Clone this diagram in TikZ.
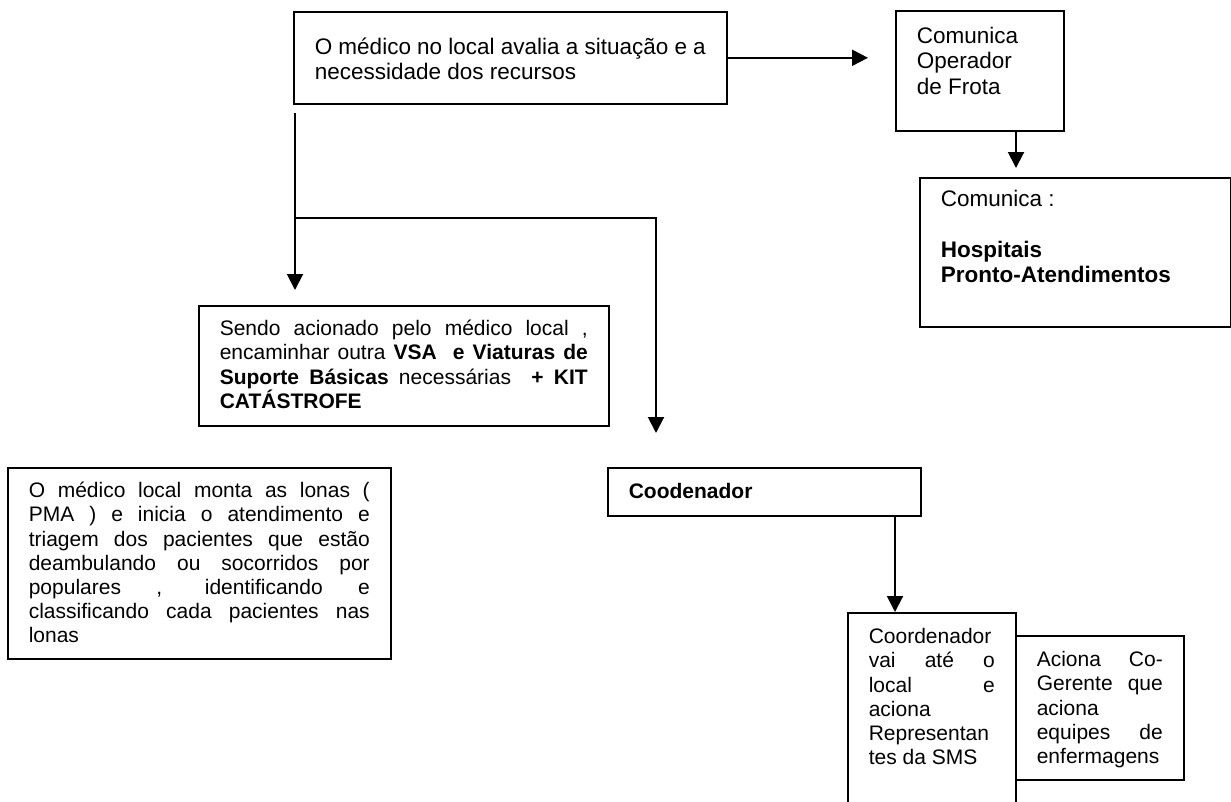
\documentclass[tikz,border=0pt]{standalone}
\usepackage{fontspec}
\setmainfont{Liberation Sans}
\usetikzlibrary{arrows.meta,calc}
\newcommand{\bt}[4][12pt]{\parbox[c][#3][t]{#2}{\vspace*{#1}\leftskip=21pt\rightskip=21pt\tolerance=10000\hyphenpenalty=10000\exhyphenpenalty=10000\parindent=0pt\rule{0pt}{0.905em}#4\par}}
\begin{document}
\begin{tikzpicture}[x=1pt,y=-1pt, font=\fontsize{21}{24.15}\selectfont,
  bx/.style={draw, line width=1.6pt, inner sep=0pt, anchor=north west},
  bigf/.style={font=\fontsize{22.5}{25.5}\selectfont},
  con/.style={line width=2pt},
  arr/.style={con, -{Triangle[length=16pt,width=16pt]}}]
\useasboundingbox (0,0) rectangle (1231,801);
\begin{scope}
\clip (0,0) rectangle (1231,801);
\node[bx, bigf] (A) at (293,11) {\bt[22pt]{433pt}{92pt}{O médico no local avalia a situação e a\\necessidade dos recursos}};
\node[bx, bigf] (B) at (895,10) {\bt{168pt}{120pt}{Comunica\\Operador\\de Frota}};
\node[bx, bigf] (C) at (919,177) {\bt[8pt]{311pt}{149pt}{Comunica :\\[25.5pt]\textbf{Hospitais}\\\textbf{Pronto-Atendimentos}}};
\node[bx] (D) at (198,305) {\bt[11pt]{410pt}{120pt}{Sendo acionado pelo médico local ,\linebreak encaminhar outra \textbf{VSA\ \ e Viaturas de}\linebreak \textbf{Suporte Básicas} necessárias\ \ \textbf{+ KIT}\linebreak \textbf{CATÁSTROFE}}};
\node[bx] (E) at (7,467) {\bt[11pt]{383pt}{191pt}{O médico local monta as lonas (\linebreak PMA ) e inicia o atendimento e\linebreak triagem dos pacientes que estão\linebreak deambulando ou socorridos por\linebreak populares , identificando e\linebreak classificando cada pacientes nas\linebreak lonas}};
\node[bx] (F) at (607,467) {\bt{313pt}{48pt}{\textbf{Coodenador}}};
\node[bx] (G) at (847,612) {\bt{168pt}{200pt}{Coordenador\newline vai até o\linebreak local e\linebreak aciona\newline Representan\newline tes da SMS}};
\node[bx] (H) at (1015,635) {\bt{168pt}{144pt}{Aciona Co-\linebreak Gerente que\linebreak aciona\newline equipes de\linebreak enfermagens}};
\draw[arr, shorten >=27pt] (A.east) -- (A.east -| B.west);
\coordinate (bc) at ($(B.south west)+(121,0)$);
\draw[arr, shorten >=9pt] (bc) -- (bc |- C.north);
\coordinate (ad) at ($(A.south west)+(2,8)$);
\draw[arr, shorten >=15pt] (ad) -- (ad |- D.north);
\coordinate (br) at (ad |- 0,218);
\draw[arr, shorten >=34pt] (br) -| ($(F.north west)+(49,0)$);
\coordinate (fg) at ($(F.south west)+(288,0)$);
\draw[arr] (fg) -- (fg |- G.north);
\end{scope}
\end{tikzpicture}
\end{document}
